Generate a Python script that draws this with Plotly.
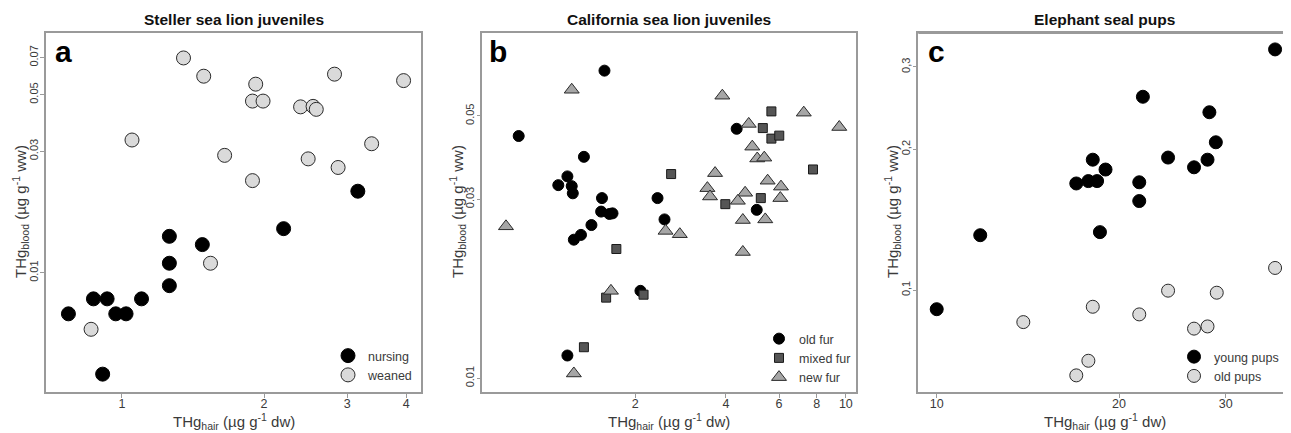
import plotly.graph_objects as go

# ---------------- data ----------------
# Panel a: Steller sea lion juveniles
ssl_nursing_hair = [3.16, 2.20, 1.26, 1.48, 1.26, 1.26, 0.87, 0.93, 1.10, 0.77, 0.97, 1.02, 0.91]
ssl_nursing_blood = [0.0209, 0.0149, 0.0139, 0.0129, 0.0109, 0.0089, 0.0079, 0.0079, 0.0079, 0.0069, 0.0069, 0.0069, 0.0040]
ssl_weaned_hair = [1.35, 1.49, 1.92, 1.89, 1.99, 2.39, 2.54, 2.58, 2.82, 3.95, 1.05, 1.65, 2.48, 3.38, 2.87, 1.89, 1.54, 0.86]
ssl_weaned_blood = [0.0697, 0.0591, 0.0550, 0.0472, 0.0472, 0.0448, 0.0450, 0.0438, 0.0602, 0.0568, 0.0332, 0.0289, 0.0280, 0.0321, 0.0259, 0.0230, 0.0109, 0.0060]

# Panel b: California sea lion juveniles
csl_old_hair = [1.58, 0.82, 1.35, 1.19, 1.11, 1.23, 1.24, 1.55, 2.37, 4.34, 5.06, 1.54, 1.64, 1.68, 2.50, 1.43, 1.32, 1.25, 2.08, 1.19]
csl_old_blood = [0.0660, 0.0442, 0.0389, 0.0345, 0.0327, 0.0325, 0.0311, 0.0302, 0.0302, 0.0462, 0.0281, 0.0278, 0.0274, 0.0275, 0.0265, 0.0256, 0.0241, 0.0234, 0.0171, 0.0115]
csl_mixed_hair = [5.66, 5.30, 5.66, 6.01, 7.78, 2.63, 3.98, 5.22, 1.73, 1.60, 2.13, 1.35]
csl_mixed_blood = [0.0514, 0.0464, 0.0435, 0.0443, 0.0360, 0.0350, 0.0291, 0.0302, 0.0221, 0.0164, 0.0167, 0.0121]
csl_new_hair = [1.23, 3.89, 7.25, 9.51, 4.76, 4.89, 5.08, 5.36, 3.68, 5.50, 6.09, 3.47, 3.54, 4.63, 4.38, 6.06, 4.55, 5.40, 0.744, 2.52, 2.81, 4.55, 1.66, 1.25]
csl_new_blood = [0.0587, 0.0566, 0.0510, 0.0467, 0.0476, 0.0414, 0.0385, 0.0387, 0.0352, 0.0336, 0.0324, 0.0321, 0.0305, 0.0312, 0.0297, 0.0302, 0.0264, 0.0265, 0.0254, 0.0247, 0.0242, 0.0217, 0.0171, 0.0103]

# Panel c: Elephant seal pups
es_young_hair = [36.2, 21.9, 28.2, 28.9, 24.1, 18.1, 28.0, 19.0, 26.6, 17.0, 17.8, 18.4, 21.6, 21.6, 11.8, 18.6, 10.0]
es_young_blood = [0.327, 0.259, 0.240, 0.207, 0.192, 0.190, 0.190, 0.181, 0.183, 0.169, 0.171, 0.171, 0.170, 0.155, 0.131, 0.133, 0.091]
es_old_hair = [36.2, 24.1, 29.0, 18.1, 21.6, 13.9, 28.0, 26.6, 17.8, 17.0]
es_old_blood = [0.1115, 0.0997, 0.0987, 0.0921, 0.0887, 0.0854, 0.0836, 0.0827, 0.0706, 0.0657]

titles = ["Steller sea lion juveniles", "California sea lion juveniles", "Elephant seal pups"]
letters = ["a", "b", "c"]
xtick_a = [1, 2, 3, 4]
ytick_a = [0.01, 0.03, 0.05, 0.07]
xtick_b = [2, 4, 6, 8, 10]
ytick_b = [0.01, 0.03, 0.05]
xtick_c = [10, 20, 30]
ytick_c = [0.1, 0.2, 0.3]
ytick_c_text = ["0,1", "0,2", "0,3"]

# ---------------- figure ----------------
OFF = 8  # page body margin
W, H = 1291 - OFF, 433 - OFF
FONT = "Liberation Sans, Arial, sans-serif"
BOX = "#9a9a9a"
TXT = "#3a3a3a"

fig = go.Figure()

def px_x(p):
    return (p - OFF) / W

def px_y(p):
    return 1 - (p - OFF) / H

ydom = [px_y(392), px_y(33.3)]
domains = [[px_x(46), px_x(421)], [px_x(482.3), px_x(856)], [px_x(918.3), 1.0]]

# panel a
fig.add_trace(go.Scatter(x=ssl_nursing_hair, y=ssl_nursing_blood, mode="markers", name="nursing",
                         marker=dict(symbol="circle", size=14, color="black", line=dict(color="black", width=1)),
                         xaxis="x", yaxis="y", legend="legend"))
fig.add_trace(go.Scatter(x=ssl_weaned_hair, y=ssl_weaned_blood, mode="markers", name="weaned",
                         marker=dict(symbol="circle", size=14, color="#dadada", line=dict(color="#2a2a2a", width=1)),
                         xaxis="x", yaxis="y", legend="legend"))
# panel b
fig.add_trace(go.Scatter(x=csl_old_hair, y=csl_old_blood, mode="markers", name="old fur",
                         marker=dict(symbol="circle", size=11, color="black", line=dict(color="black", width=1)),
                         xaxis="x2", yaxis="y2", legend="legend2"))
fig.add_trace(go.Scatter(x=csl_mixed_hair, y=csl_mixed_blood, mode="markers", name="mixed fur",
                         marker=dict(symbol="square", size=9, color="#555555", line=dict(color="#1a1a1a", width=1)),
                         xaxis="x2", yaxis="y2", legend="legend2"))
fig.add_trace(go.Scatter(x=csl_new_hair, y=csl_new_blood, mode="markers", name="new fur",
                         marker=dict(symbol="triangle-up", size=13, color="#a6a6a6", line=dict(color="#2a2a2a", width=1)),
                         xaxis="x2", yaxis="y2", legend="legend2"))
# panel c
fig.add_trace(go.Scatter(x=es_young_hair, y=es_young_blood, mode="markers", name="young pups",
                         marker=dict(symbol="circle", size=13, color="black", line=dict(color="black", width=1)),
                         xaxis="x3", yaxis="y3", legend="legend3"))
fig.add_trace(go.Scatter(x=es_old_hair, y=es_old_blood, mode="markers", name="old pups",
                         marker=dict(symbol="circle", size=13, color="#dadada", line=dict(color="#2a2a2a", width=1)),
                         xaxis="x3", yaxis="y3", legend="legend3"))

def xaxis(dom, rng, ticks, anchor, mirror=True):
    return dict(domain=dom, type="log", range=rng, tickvals=ticks, ticktext=[str(t) for t in ticks],
                showgrid=False, zeroline=False, showline=True, linecolor=BOX, linewidth=1.5,
                mirror=mirror, ticks="outside", ticklen=4, tickcolor=BOX, tickwidth=1,
                ticklabelstandoff=-5,
                tickfont=dict(family=FONT, size=12.5, color=TXT), anchor=anchor)

def yaxis(rng, ticks, anchor, ticktext=None, mirror=True):
    return dict(domain=ydom, type="log", range=rng, tickvals=ticks,
                ticktext=ticktext if ticktext else [str(t) for t in ticks],
                showgrid=False, zeroline=False, showline=True, linecolor=BOX, linewidth=1.5,
                mirror=mirror, ticks="outside", ticklen=4, tickcolor=BOX, tickwidth=1, tickangle=-90,
                ticklabelstandoff=-2,
                tickfont=dict(family=FONT, size=11, color=TXT), anchor=anchor)

layout = dict(
    width=W, height=H, margin=dict(l=0, r=0, t=0, b=0),
    paper_bgcolor="white", plot_bgcolor="white",
    font=dict(family=FONT, color=TXT),
    xaxis=xaxis(domains[0], [-0.161, 0.6335], xtick_a, "y"),
    yaxis=yaxis([-2.468, -1.060], ytick_a, "x"),
    xaxis2=xaxis(domains[1], [-0.207, 1.0337], xtick_b, "y2"),
    yaxis2=yaxis([-2.0365, -1.081], ytick_b, "x2"),
    xaxis3=xaxis(domains[2], [0.9696, 1.585], xtick_c, "y3"),
    yaxis3=yaxis([-1.218, -0.451], ytick_c, "x3", ticktext=ytick_c_text, mirror=False),
)

def leg(xr, yb):
    return dict(x=min(px_x(xr), 1.0), y=px_y(yb), xanchor="right", yanchor="bottom", bgcolor="rgba(0,0,0,0)",
                font=dict(family=FONT, size=12.5, color=TXT), itemwidth=30, tracegroupgap=0,
                borderwidth=0)

layout["legend"] = leg(418, 390)
layout["legend2"] = leg(856, 392)
layout["legend3"] = leg(1284, 391)
fig.update_layout(**layout)

# top border of panel c (right border is clipped in the reference)
fig.add_shape(type="line", xref="paper", yref="paper", x0=domains[2][0], x1=1.0, y0=ydom[1], y1=ydom[1],
              line=dict(color=BOX, width=1.5))

centers = [(46 + 421) / 2, (482.3 + 856) / 2, (918.3 + 1291) / 2]
lefts = [63, 498, 936]
ytitle_x = [20, 457, 892]
xlabel = "THg<sub>hair</sub> (µg g<sup>-1</sup> dw)"
ylabel = "THg<sub>blood</sub> (µg g<sup>-1</sup> ww)"
for i in range(3):
    fig.add_annotation(text="<b>%s</b>" % titles[i], xref="paper", yref="paper", x=px_x(centers[i]), y=px_y(20),
                       showarrow=False, xanchor="center", yanchor="middle",
                       font=dict(family=FONT, size=15.5, color="#111111"))
    fig.add_annotation(text="<b>%s</b>" % letters[i], xref="paper", yref="paper", x=px_x(lefts[i]), y=px_y(52),
                       showarrow=False, xanchor="center", yanchor="middle",
                       font=dict(family=FONT, size=30, color="black"))
    fig.add_annotation(text=xlabel, xref="paper", yref="paper", x=px_x(centers[i]), y=px_y(421),
                       showarrow=False, xanchor="center", yanchor="middle",
                       font=dict(family=FONT, size=15, color=TXT))
    fig.add_annotation(text=ylabel, xref="paper", yref="paper", x=px_x(ytitle_x[i]), y=px_y(212),
                       showarrow=False, xanchor="center", yanchor="middle", textangle=-90,
                       font=dict(family=FONT, size=15, color=TXT))

fig.write_html("out.html")
